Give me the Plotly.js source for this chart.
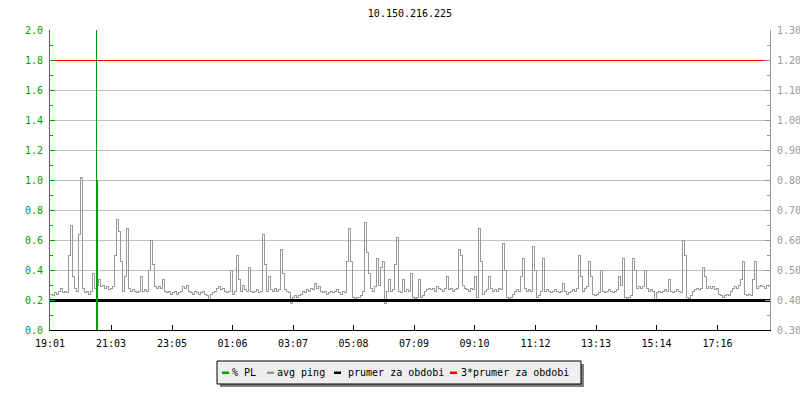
<!DOCTYPE html>
<html>
<head>
<meta charset="utf-8">
<script src="https://cdn.plot.ly/plotly-3.0.1.min.js"></script>
<style>
html, body { margin: 0; padding: 0; background: #ffffff; }
#chart { width: 800px; height: 400px; }
.scatterlayer .js-line, .scatterlayer .js-fill { shape-rendering: crispEdges; }
</style>
</head>
<body>
<div id="chart"></div>
<script>
// ---------- data ----------
const chartTitle = '10.150.216.225';
const startTime = '19:01';
const tickLabels = ['19:01', '21:03', '23:05', '01:06', '03:07', '05:08', '07:09', '09:10', '11:12', '13:13', '15:14', '17:16'];
const windowMinutes = 1440;
const pingStepMinutes = 4;
const pingValues = [
  0.42, 0.415, 0.425, 0.42, 0.43,
  0.44, 0.425, 0.43, 0.425, 0.55,
  0.65, 0.48, 0.44, 0.43, 0.62,
  0.81, 0.44, 0.425, 0.43, 0.42,
  0.43, 0.49, 0.44, 0.45, 0.47,
  0.445, 0.45, 0.44, 0.445, 0.435,
  0.44, 0.445, 0.55, 0.67, 0.63,
  0.53, 0.43, 0.48, 0.64, 0.44,
  0.43, 0.435, 0.43, 0.425, 0.43,
  0.48, 0.43, 0.435, 0.43, 0.50,
  0.60, 0.52, 0.445, 0.44, 0.445,
  0.44, 0.47, 0.43, 0.425, 0.43,
  0.42, 0.425, 0.43, 0.42, 0.425,
  0.43, 0.445, 0.44, 0.45, 0.43,
  0.425, 0.42, 0.43, 0.425, 0.42,
  0.425, 0.43, 0.42, 0.415, 0.40,
  0.42, 0.425, 0.43, 0.44, 0.445,
  0.435, 0.44, 0.43, 0.425, 0.43,
  0.50, 0.42, 0.43, 0.55, 0.47,
  0.43, 0.45, 0.435, 0.43, 0.51,
  0.43, 0.425, 0.43, 0.435, 0.425,
  0.43, 0.62, 0.52, 0.43, 0.48,
  0.435, 0.43, 0.44, 0.43, 0.435,
  0.57, 0.49, 0.435, 0.43, 0.425,
  0.39, 0.41, 0.415, 0.41, 0.415,
  0.42, 0.43, 0.425, 0.435, 0.43,
  0.44, 0.435, 0.455, 0.44, 0.445,
  0.43, 0.425, 0.43, 0.42, 0.425,
  0.43, 0.425, 0.43, 0.435, 0.425,
  0.42, 0.43, 0.425, 0.53, 0.64,
  0.53, 0.41, 0.405, 0.41, 0.41,
  0.415, 0.43, 0.66, 0.56, 0.49,
  0.44, 0.43, 0.445, 0.54, 0.45,
  0.51, 0.53, 0.39, 0.43, 0.47,
  0.43, 0.435, 0.52, 0.61, 0.43,
  0.425, 0.47, 0.43, 0.435, 0.43,
  0.49, 0.41, 0.405, 0.41, 0.47,
  0.41, 0.415, 0.43, 0.435, 0.44,
  0.435, 0.44, 0.43, 0.445, 0.44,
  0.435, 0.43, 0.44, 0.48, 0.435,
  0.44, 0.43, 0.435, 0.44, 0.57,
  0.55, 0.45, 0.44, 0.435, 0.43,
  0.44, 0.435, 0.48, 0.41, 0.64,
  0.53, 0.42, 0.43, 0.435, 0.48,
  0.44, 0.43, 0.435, 0.43, 0.44,
  0.435, 0.59, 0.50, 0.41, 0.405,
  0.41, 0.42, 0.43, 0.435, 0.43,
  0.48, 0.54, 0.44, 0.43, 0.435,
  0.43, 0.58, 0.50, 0.41, 0.415,
  0.43, 0.54, 0.43, 0.435, 0.43,
  0.425, 0.43, 0.435, 0.43, 0.425,
  0.43, 0.455, 0.43, 0.42, 0.425,
  0.43, 0.435, 0.43, 0.44, 0.55,
  0.48, 0.43, 0.44, 0.445, 0.53,
  0.48, 0.42, 0.415, 0.42, 0.425,
  0.50, 0.43, 0.425, 0.43, 0.435,
  0.43, 0.425, 0.43, 0.435, 0.48,
  0.45, 0.54, 0.41, 0.405, 0.41,
  0.415, 0.54, 0.50, 0.44, 0.445,
  0.44, 0.445, 0.50, 0.44, 0.43,
  0.435, 0.43, 0.40, 0.425, 0.43,
  0.425, 0.43, 0.435, 0.43, 0.47,
  0.43, 0.425, 0.43, 0.435, 0.43,
  0.425, 0.60, 0.55, 0.41, 0.405,
  0.415, 0.43, 0.435, 0.44, 0.435,
  0.44, 0.51, 0.48, 0.44, 0.445,
  0.44, 0.445, 0.435, 0.44, 0.42,
  0.415, 0.41, 0.415, 0.42, 0.415,
  0.43, 0.44, 0.445, 0.44, 0.45,
  0.47, 0.53, 0.42, 0.415, 0.42,
  0.415, 0.47, 0.53, 0.44, 0.445,
  0.45, 0.445, 0.44, 0.45, 0.445
];
const plTimes = [0, 92, 94, 96, 1440];
const plValues = [0, 2.0, 1.0, 0, 0];
const meanPing = 0.40;
const seriesNames = ['% PL', 'avg ping', 'prumer za obdobi', '3*prumer za obdobi'];
const seriesColors = ['#00a000', '#999999', '#000000', '#ff0000'];

// ---------- derived ----------
function toMin(s) { const p = s.split(':'); return (+p[0]) * 60 + (+p[1]); }
const start = toMin(startTime);
const tickVals = tickLabels.map(l => ((toMin(l) - start) % 1440 + 1440) % 1440);
const pingTimes = pingValues.map((v, i) => i * pingStepMinutes);

const FONT = 'DejaVu Sans Mono, Liberation Mono, monospace';

const traces = [
  { type: 'scatter', mode: 'lines', name: seriesNames[1], x: pingTimes, y: pingValues,
    line: { color: seriesColors[1], width: 1, shape: 'hv' }, xaxis: 'x', yaxis: 'y', hoverinfo: 'skip' },
  { type: 'scatter', mode: 'lines', name: seriesNames[2], x: [0, windowMinutes], y: [meanPing, meanPing],
    line: { color: seriesColors[2], width: 3 }, xaxis: 'x', yaxis: 'y', hoverinfo: 'skip' },
  { type: 'scatter', mode: 'lines', name: seriesNames[3], x: [0, windowMinutes], y: [3 * meanPing, 3 * meanPing],
    line: { color: seriesColors[3], width: 1 }, xaxis: 'x', yaxis: 'y', hoverinfo: 'skip' },
  { type: 'scatter', mode: 'lines', name: seriesNames[0], x: plTimes, y: plValues,
    line: { color: seriesColors[0], width: 0, shape: 'hv' }, fill: 'tozeroy', fillcolor: seriesColors[0],
    xaxis: 'x', yaxis: 'y2', hoverinfo: 'skip' }
];

// ---------- custom compact legend (pixel layout) ----------
const L = 50, T = 30, W = 720, H = 300;
const px = p => (p - L) / W;
const py = p => (T + H - p) / H;
const legendBox = { x0: 217, x1: 581, y0: 361, y1: 384 };
const swatchX = [222, 267, 334, 450];
const textX = [231, 276, 347, 460];
const legendMidY = 372.5;

const shapes = [
  { type: 'rect', xref: 'paper', yref: 'paper', x0: px(legendBox.x0 + 3), x1: px(legendBox.x1 + 3),
    y0: py(legendBox.y0 + 3), y1: py(legendBox.y1 + 3), fillcolor: '#808080', line: { width: 0 } },
  { type: 'rect', xref: 'paper', yref: 'paper', x0: px(legendBox.x0), x1: px(legendBox.x1),
    y0: py(legendBox.y0), y1: py(legendBox.y1), fillcolor: '#eeeeee', line: { color: '#000000', width: 1 } }
];
const annotations = [];
seriesNames.forEach((n, k) => {
  shapes.push({ type: 'rect', xref: 'paper', yref: 'paper', x0: px(swatchX[k]), x1: px(swatchX[k] + 7),
    y0: py(legendMidY - 1), y1: py(legendMidY + 1.5), fillcolor: seriesColors[k], line: { width: 0 } });
  annotations.push({ xref: 'paper', yref: 'paper', x: px(textX[k]), y: py(legendMidY), text: n,
    showarrow: false, xanchor: 'left', yanchor: 'middle', borderpad: 0,
    font: { family: FONT, size: 10, color: '#000000' } });
});

const layout = {
  width: 800, height: 400,
  margin: { l: L, r: 800 - L - W, t: T, b: 400 - T - H },
  paper_bgcolor: '#ffffff', plot_bgcolor: '#ffffff',
  showlegend: false,
  title: { text: chartTitle, x: 0.5, xref: 'paper', xanchor: 'center', y: 1 - 13 / 400, yref: 'container', yanchor: 'middle',
    font: { family: FONT, size: 10, color: '#000000' } },
  font: { family: FONT, size: 10 },
  xaxis: {
    range: [0, windowMinutes], tickmode: 'array', tickvals: tickVals, ticktext: tickLabels,
    ticks: 'inside', ticklen: 5, tickcolor: '#000000', showline: true, linecolor: '#000000', linewidth: 1,
    ticklabelstandoff: 4,
    showgrid: false, zeroline: false, tickfont: { family: FONT, size: 10, color: '#000000' }, fixedrange: true
  },
  yaxis: {
    side: 'right', range: [0.3, 1.3], tick0: 0.3, dtick: 0.1, tickformat: '.2f',
    ticks: 'inside', ticklen: 5, tickcolor: '#999999', showline: true, linecolor: '#999999', linewidth: 1,
    ticklabelstandoff: 4,
    showgrid: true, gridcolor: '#c0c0c0', gridwidth: 1, zeroline: false,
    minor: { dtick: 0.05, ticks: 'inside', ticklen: 3, tickcolor: '#999999', showgrid: false },
    tickfont: { family: FONT, size: 10, color: '#999999' }, fixedrange: true
  },
  yaxis2: {
    overlaying: 'y', side: 'left', range: [0, 2], tick0: 0, dtick: 0.2, tickformat: '.1f',
    ticks: 'inside', ticklen: 5, tickcolor: '#00a000', showline: true, linecolor: '#00a000', linewidth: 1,
    ticklabelstandoff: 4,
    showgrid: false, zeroline: false,
    minor: { dtick: 0.1, ticks: 'inside', ticklen: 3, tickcolor: '#00a000', showgrid: false },
    tickfont: { family: FONT, size: 10, color: '#00a000' }, fixedrange: true
  },
  shapes: shapes,
  annotations: annotations
};

Plotly.newPlot('chart', traces, layout, { staticPlot: true, displayModeBar: false });
</script>
</body>
</html>
